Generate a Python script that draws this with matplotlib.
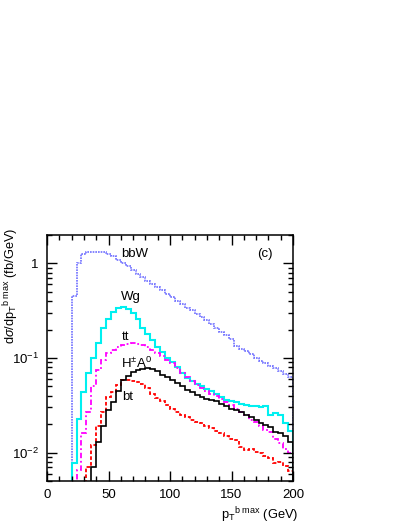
import matplotlib
matplotlib.use("Agg")
import matplotlib.pyplot as plt
import numpy as np
from matplotlib.ticker import FixedLocator, NullFormatter, MultipleLocator

plt.rcParams['font.family'] = ['Liberation Sans', 'DejaVu Sans']
plt.rcParams['mathtext.fontset'] = 'custom'
plt.rcParams['mathtext.rm'] = 'Liberation Sans'
plt.rcParams['mathtext.it'] = 'Liberation Sans:italic'

# 4 GeV bins, each series listed from its first non-empty bin
bin_width = 4

bbw_start = 20
bbw = [0.45, 1.0, 1.25, 1.32, 1.33, 1.33, 1.31, 1.27, 1.2, 1.1,
       1.0, 0.93, 0.85, 0.78, 0.72, 0.66, 0.61, 0.56, 0.52, 0.48,
       0.44, 0.40, 0.37, 0.34, 0.32, 0.29, 0.27, 0.25, 0.23, 0.21,
       0.19, 0.175, 0.16, 0.135, 0.125, 0.12, 0.11, 0.10, 0.092, 0.088,
       0.082, 0.078, 0.072, 0.068, 0.063]

wg_start = 20
wg = [0.0078, 0.0225, 0.044, 0.07, 0.10, 0.145, 0.21, 0.26, 0.31, 0.34,
      0.35, 0.33, 0.30, 0.26, 0.21, 0.18, 0.155, 0.13, 0.115, 0.10,
      0.09, 0.08, 0.07, 0.062, 0.057, 0.053, 0.05, 0.047, 0.045, 0.042,
      0.039, 0.036, 0.035, 0.034, 0.033, 0.032, 0.031, 0.031, 0.030, 0.031,
      0.025, 0.026, 0.025, 0.0205, 0.0167]

tt_start = 24
tt = [0.0065, 0.016, 0.027, 0.05, 0.075, 0.095, 0.112, 0.121, 0.13,
      0.136, 0.141, 0.143, 0.14, 0.136, 0.13, 0.122, 0.113, 0.104, 0.096,
      0.088, 0.079, 0.07, 0.063, 0.057, 0.052, 0.048, 0.045, 0.042, 0.04,
      0.037, 0.034, 0.032, 0.029, 0.027, 0.025, 0.022, 0.021, 0.019, 0.0175,
      0.0165, 0.014, 0.0125, 0.0108, 0.0098]

ha_start = 36
ha = [0.0071, 0.013, 0.019, 0.028, 0.0345, 0.045, 0.058, 0.065, 0.071, 0.075,
      0.077, 0.078, 0.077, 0.072, 0.066, 0.063, 0.059, 0.054, 0.05, 0.046,
      0.044, 0.041, 0.039, 0.037, 0.036, 0.035, 0.033, 0.031, 0.029, 0.028,
      0.027, 0.025, 0.024, 0.022, 0.0205, 0.0195, 0.0185, 0.0166, 0.016,
      0.0148, 0.013]

bt_start = 32
bt = [0.0071, 0.012, 0.019, 0.027, 0.039, 0.044, 0.052, 0.058, 0.0585,
      0.057, 0.056, 0.053, 0.048, 0.042, 0.038, 0.035, 0.032, 0.029, 0.027,
      0.025, 0.024, 0.022, 0.021, 0.0205, 0.019, 0.018, 0.0167, 0.016, 0.015,
      0.014, 0.0135, 0.0115, 0.0107, 0.011, 0.0102, 0.0098, 0.0093, 0.0088,
      0.0077, 0.008, 0.0072, 0.0064]

fig = plt.figure(figsize=(4.09, 5.29), dpi=100)
ax = fig.add_axes([47/409, 1-481/529, 246/409, 246/529])

floor = 1e-4

def draw(vals, start, **kw):
    edges = start + bin_width*np.arange(len(vals)+1)
    ax.stairs(vals, edges, baseline=floor, **kw)

draw(bbw, bbw_start, color='#7070ff', linestyle=(0, (1, 0.6)), linewidth=1.2)
draw(wg, wg_start, color='#00f0f0', linestyle='-', linewidth=1.5)
draw(tt, tt_start, color='#ff00ff', linestyle=(0, (3, 1.5, 1, 1.5)), linewidth=1.3)
draw(bt, bt_start, color='#ff0000', linestyle=(0, (2, 1.2)), linewidth=1.3)
draw(ha, ha_start, color='black', linestyle='-', linewidth=1.2)

ax.set_yscale('log')
ax.set_xlim(0, 200)
ax.set_ylim(0.005, 2.0)

fs = 9.5
ax.xaxis.set_major_locator(MultipleLocator(50))
ax.xaxis.set_minor_locator(MultipleLocator(10))
ax.yaxis.set_major_locator(FixedLocator([1e-2, 1e-1, 1]))
ax.yaxis.set_minor_locator(FixedLocator([k*10.0**e for e in (-3, -2, -1, 0)
                                         for k in range(2, 10)]))
ax.yaxis.set_minor_formatter(NullFormatter())
ax.set_yticklabels([r'$10^{-2}$', r'$10^{-1}$', '1'])
ax.tick_params(which='both', direction='in', top=True, right=True,
               labelsize=fs, width=1)
ax.tick_params(which='major', length=7)
ax.tick_params(which='minor', length=3.5)
ax.tick_params(axis='x', pad=6)
ax.tick_params(axis='y', pad=6)
for s in ax.spines.values():
    s.set_linewidth(1.1)

ax.text(-0.146, 1.028, r'd$\sigma$/dp$_{\rm T}$$^{\rm b\ max}$ (fb/GeV)',
        rotation=90, ha='center', va='top', fontsize=9.2, transform=ax.transAxes)
ax.text(1.02, -0.138, r'p$_{\rm T}$$^{\rm b\ max}$ (GeV)', ha='right',
        va='center', fontsize=9.3, transform=ax.transAxes)

ax.text(60.5, 1.27, 'bbW', fontsize=fs, va='center')
ax.text(60.5, 0.44, 'Wg', fontsize=fs, va='center')
ax.text(61, 0.165, 'tt', fontsize=fs, va='center')
ax.text(60.5, 0.088, r'H$^{\pm}$A$^{0}$', fontsize=fs, va='center')
ax.text(61, 0.039, 'bt', fontsize=fs, va='center')
ax.text(170.5, 1.25, '(c)', fontsize=fs, va='center')

fig.savefig('out.png', dpi=100)
